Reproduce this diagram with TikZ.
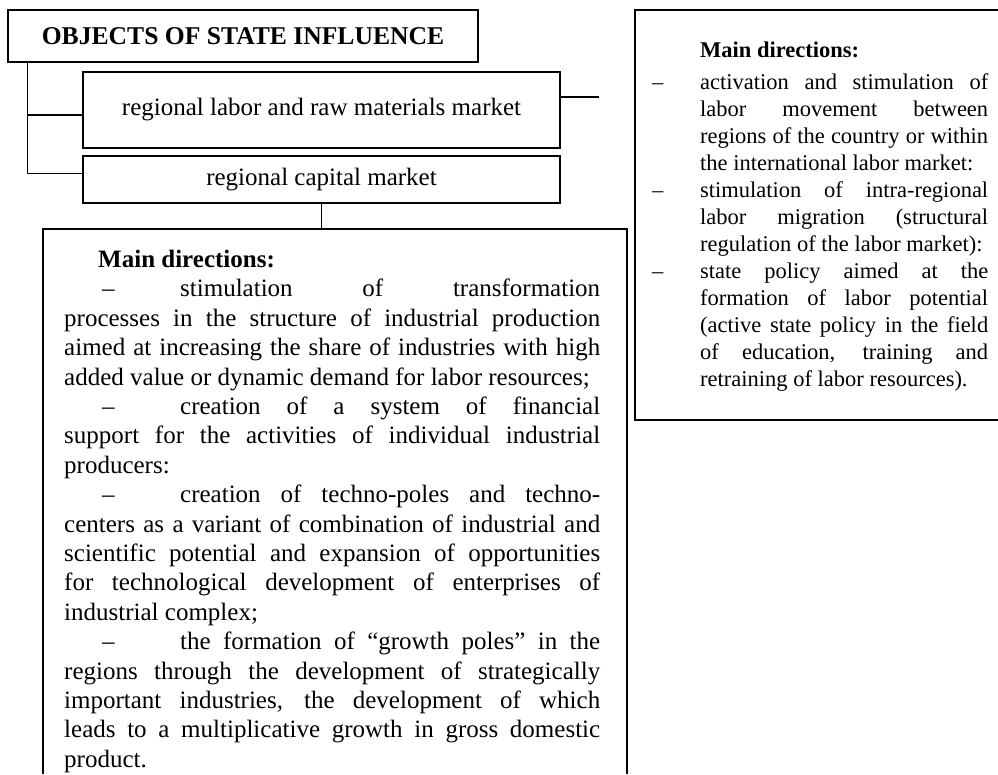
\documentclass[tikz,border=0pt]{standalone}
\usepackage{fontspec}
\setmainfont{Liberation Serif}
\tolerance=10000
\hbadness=10000
\hyphenpenalty=10000
\exhyphenpenalty=10000
\begin{document}
\begin{tikzpicture}[x=1pt,y=-1pt,
  frame/.style={draw=black,line width=1.3pt},
  conn/.style={draw=black,line width=1.3pt},
  headbox/.style={frame,inner sep=0pt,minimum width=470pt,minimum height=52pt,font=\fontsize{25.6}{30}\selectfont\bfseries},
  marketbox/.style={frame,inner sep=0pt,minimum width=477pt,font=\fontsize{25}{29}\selectfont},
  bigtext/.style={anchor=north west,inner sep=0pt,text width=536pt,align=justify,font=\fontsize{25}{29.4}\selectfont},
  sidetext/.style={anchor=north west,inner sep=0pt,text width=288pt,align=justify,font=\fontsize{22.5}{27}\selectfont}
]
\useasboundingbox (0,0) rectangle (998,774);
\fill[white] (0,0) rectangle (998,774);

% top boxes
\node[headbox] (title) at (243,36) {OBJECTS OF STATE INFLUENCE};
\node[marketbox,minimum height=76pt] (labor) at (321.5,110) {regional labor and raw materials market};
\node[marketbox,minimum height=47pt] (capital) at (321.5,179.5) {regional capital market};

% left big box (runs past the bottom edge)
\coordinate (lbNW) at (43,229);
\coordinate (lbNE) at (627,229);
\coordinate (lbSW) at (43,774);
\coordinate (lbSE) at (627,774);
\draw[frame] (lbSW) -- (lbNW) -- (lbNE) -- (lbSE);

% right box (runs past the right edge)
\coordinate (rbNW) at (635,10);
\coordinate (rbSW) at (635,420);
\coordinate (rbNE) at (998,10);
\coordinate (rbSE) at (998,420);
\draw[frame] (rbNE) -- (rbNW) -- (rbSW) -- (rbSE);

% connectors
\coordinate (trunk) at ([xshift=20pt]title.south west);
\draw[conn] (trunk) |- ([yshift=-5pt]labor.west);
\draw[conn] (trunk) |- ([yshift=6pt]capital.west);
\draw[conn] ([yshift=13pt]labor.east) -- ++(38,0) coordinate (stub);
\coordinate (lbtop) at (capital.south |- lbNW);
\draw[conn] (capital.south) -- (lbtop);

% left text
\node[bigtext] (lefttext) at (64,250) {%
\noindent\hspace*{34pt}\textbf{Main directions:}\par
\noindent\hspace*{38pt}\makebox[78pt][l]{–}stimulation of transformation\linebreak
processes in the structure of industrial production\linebreak
aimed at increasing the share of industries with high\linebreak
added value or dynamic demand for labor resources;\par
\noindent\hspace*{38pt}\makebox[78pt][l]{–}creation of a system of financial\linebreak
support for the activities of individual industrial\linebreak
producers:\par
\noindent\hspace*{38pt}\makebox[78pt][l]{–}creation of techno-poles and techno-\linebreak
centers as a variant of combination of industrial and\linebreak
scientific potential and expansion of opportunities\linebreak
for technological development of enterprises of\linebreak
industrial complex;\par
\noindent\hspace*{38pt}\makebox[78pt][l]{–}the formation of ``growth poles'' in the\linebreak
regions through the development of strategically\linebreak
important industries, the development of which\linebreak
leads to a multiplicative growth in gross domestic\linebreak
product.};

% right text
\node[sidetext] (righttext) at (700,42) {%
\noindent\textbf{Main directions:}\par\vspace{5pt}
\noindent\llap{\makebox[48pt][l]{–}}activation and stimulation of\linebreak
labor movement between\linebreak
regions of the country or within\linebreak
the international labor market:\par
\noindent\llap{\makebox[48pt][l]{–}}stimulation of intra-regional\linebreak
labor migration (structural\linebreak
regulation of the labor market):\par
\noindent\llap{\makebox[48pt][l]{–}}state policy aimed at the\linebreak
formation of labor potential\linebreak
(active state policy in the field\linebreak
of education, training and\linebreak
retraining of labor resources).};
\end{tikzpicture}
\end{document}
